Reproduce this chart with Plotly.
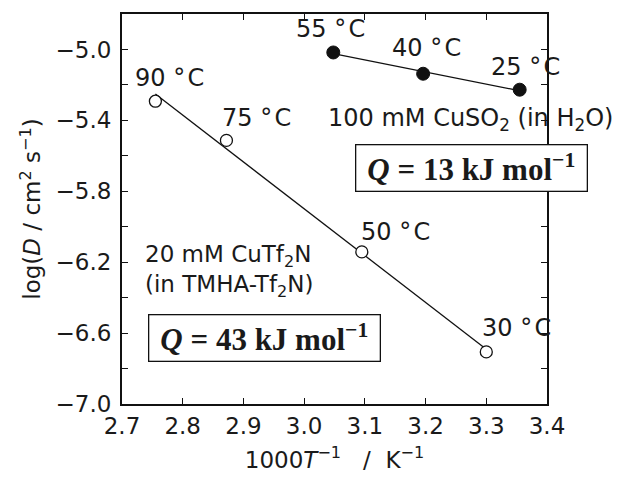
import numpy as np
import plotly.graph_objects as go

# ---- data ----
il_x = [2.755, 2.872, 3.095, 3.300]          # 1000/T, CuTf2N in TMHA-Tf2N
il_y = [-5.292, -5.513, -6.142, -6.706]       # log D
il_labels = ["90", "75", "50", "30"]
il_lab_x = [2.779, 2.921, 3.150, 3.349]
il_lab_y = [-5.163, -5.388, -6.028, -6.573]

aq_x = [3.048, 3.196, 3.355]                  # 1000/T, CuSO2 in H2O
aq_y = [-5.017, -5.137, -5.227]
aq_labels = ["55", "40", "25"]
aq_lab_x = [3.043, 3.202, 3.364]
aq_lab_y = [-4.882, -4.994, -5.101]

x_ticks = [2.7, 2.8, 2.9, 3.0, 3.1, 3.2, 3.3, 3.4]
y_ticks = [-7.0, -6.8, -6.6, -6.4, -6.2, -6.0, -5.8, -5.6, -5.4, -5.2, -5.0, -4.8]
y_labeled = [-7.0, -6.6, -6.2, -5.8, -5.4, -5.0]

TXT = "#1a1a1a"
SANS = "DejaVu Sans, Liberation Sans, Arial, sans-serif"
SERIF = "Liberation Serif, Times New Roman, serif"

def fit_line(xs, ys):
    k, b = np.polyfit(xs, ys, 1)
    fx = np.array([min(xs), max(xs)])
    return fx, k * fx + b

fig = go.Figure()

fx, fy = fit_line(il_x, il_y)
fig.add_trace(go.Scatter(x=fx, y=fy, mode="lines", line=dict(color="#111", width=1.3),
                         showlegend=False, hoverinfo="skip"))
fx2, fy2 = fit_line(aq_x, aq_y)
fig.add_trace(go.Scatter(x=fx2, y=fy2, mode="lines", line=dict(color="#111", width=1.3),
                         showlegend=False, hoverinfo="skip"))

fig.add_trace(go.Scatter(x=il_x, y=il_y, mode="markers",
                         marker=dict(symbol="circle", size=12, color="white",
                                     line=dict(color="#111", width=1.3)),
                         showlegend=False))
fig.add_trace(go.Scatter(x=aq_x, y=aq_y, mode="markers",
                         marker=dict(symbol="circle", size=13, color="#111",
                                     line=dict(color="#111", width=1)),
                         showlegend=False))

ann = []
for t, x, y in zip(il_labels + aq_labels, il_lab_x + aq_lab_x, il_lab_y + aq_lab_y):
    ann.append(dict(x=x, y=y, xref="x", yref="y", text=f"{t} °\u200aC", showarrow=False,
                    font=dict(family=SANS, size=24, color=TXT)))

ann.append(dict(x=3.036, y=-5.393, xref="x", yref="y", xanchor="left",
                text="100 mM CuSO<sub>2</sub> (in H<sub>2</sub>O)", showarrow=False,
                font=dict(family=SANS, size=24, color=TXT)))
ann.append(dict(x=2.735, y=-6.250, xref="x", yref="y", xanchor="left", align="left",
                text="20 mM CuTf<sub>2</sub>N<br>(in TMHA-Tf<sub>2</sub>N)", showarrow=False,
                font=dict(family=SANS, size=23, color=TXT)))

for txt, x, y in [("13", 3.275, -5.671), ("43", 2.934, -6.629)]:
    ann.append(dict(x=x, y=y, xref="x", yref="y",
                    text=f"<b><i>Q</i> = {txt} kJ mol<sup>−1</sup></b>", showarrow=False,
                    font=dict(family=SERIF, size=31, color=TXT),
                    bordercolor="#111", borderwidth=1.3, borderpad=2,
                    width=226, height=41, bgcolor="white"))

# the page puts the figure 8 px in from the top-left corner; margins allow for it
fig.update_layout(
    width=625, height=483,
    margin=dict(l=114, r=86, t=4, b=87),
    paper_bgcolor="white", plot_bgcolor="white",
    annotations=ann,
    font=dict(family=SANS, color=TXT),
)
fig.update_xaxes(
    range=[2.7, 3.4], tickvals=x_ticks, ticktext=[f"{v:.1f}" for v in x_ticks],
    ticks="inside", ticklen=6, tickwidth=1.3, tickcolor="#111",
    showline=True, linewidth=2, linecolor="#111", mirror="ticks",
    showgrid=False, zeroline=False,
    tickfont=dict(family=SANS, size=23, color=TXT),
    title=dict(text="1000<i>T</i><sup>−1</sup>   /  K<sup>−1</sup>",
               font=dict(family=SANS, size=23, color=TXT), standoff=14),
)
fig.update_yaxes(
    range=[-7.0, -4.8], tickvals=y_ticks,
    ticktext=[(f"{v:.1f}".replace("-", "−") if any(abs(v - l) < 1e-9 for l in y_labeled) else "")
              for v in y_ticks],
    ticks="inside", ticklen=6, tickwidth=1.3, tickcolor="#111",
    showline=True, linewidth=2, linecolor="#111", mirror="ticks",
    showgrid=False, zeroline=False, ticklabelstandoff=4,
    tickfont=dict(family=SANS, size=23, color=TXT),
    title=dict(text="log(<i>D</i> / cm<sup>2</sup> s<sup>−1</sup>)",
               font=dict(family=SANS, size=23, color=TXT), standoff=8),
)

fig.write_html("out.html")
